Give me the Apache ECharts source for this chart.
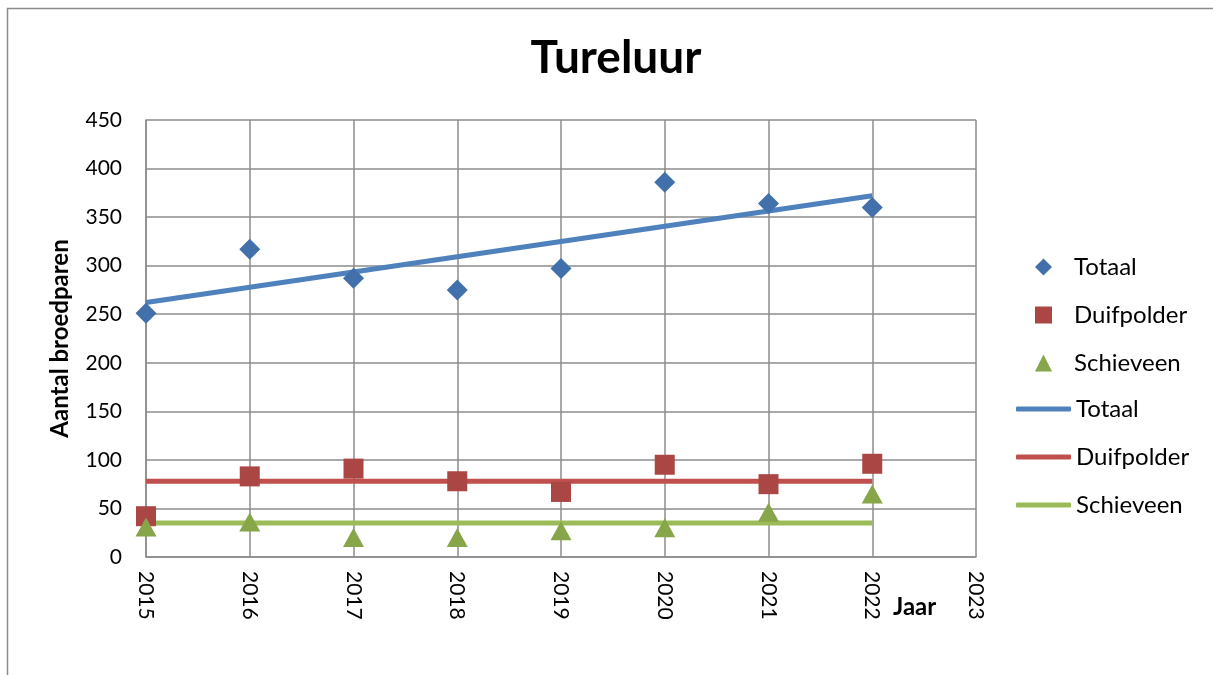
<!DOCTYPE html>
<html>
<head>
<meta charset="utf-8">
<script src="https://cdn.jsdelivr.net/npm/echarts@6/dist/echarts.min.js"></script>
<style>html,body{margin:0;padding:0;background:#fff}#c{width:1213px;height:675px}</style>
</head>
<body>
<div id="c"></div>
<script>
const years = [2015, 2016, 2017, 2018, 2019, 2020, 2021, 2022];
const totaal = [251, 317, 287, 275, 297, 386, 364, 360];
const duifpolder = [42, 83, 91, 78, 67, 95, 75, 96];
const schieveen = [31, 36, 20, 20, 27, 30, 46, 65];
const trendYears = [2015, 2022];
const trendTotaal = [262, 372];
const trendDuifpolder = [78, 78];
const trendSchieveen = [35, 35];

const FONT = 'Lato';
const pairs = (xs, ys) => xs.map((x, i) => [x, ys[i]]);

const chart = echarts.init(document.getElementById('c'));
chart.setOption({
  animation: false,
  textStyle: { fontFamily: FONT },
  title: {
    text: 'Tureluur', left: 611, top: 30, textAlign: 'center',
    textStyle: { fontFamily: FONT, fontSize: 46, fontWeight: 'bold', color: '#000' }
  },
  grid: { left: 146, right: 237, top: 120, bottom: 118 },
  xAxis: {
    type: 'value', min: 2015, max: 2023, interval: 1,
    axisLine: { show: true, lineStyle: { color: '#8c8c8c', width: 1.5 } },
    axisTick: { show: false },
    splitLine: { show: true, lineStyle: { color: '#8c8c8c', width: 1.5 } },
    axisLabel: { rotate: -90, margin: 14, fontSize: 21, color: '#000', fontFamily: FONT, formatter: v => String(v) }
  },
  yAxis: {
    type: 'value', min: 0, max: 450, interval: 50,
    name: 'Aantal broedparen', nameLocation: 'middle', nameGap: 74, nameRotate: 90,
    nameTextStyle: { fontSize: 24, fontWeight: 'bold', color: '#000', fontFamily: FONT },
    axisLine: { show: true, lineStyle: { color: '#8c8c8c', width: 1.5 } },
    axisTick: { show: false },
    splitLine: { show: true, lineStyle: { color: '#8c8c8c', width: 1.5 } },
    axisLabel: { margin: 24, fontSize: 21, color: '#000', fontFamily: FONT }
  },
  legend: [
    {
      orient: 'vertical', left: 1035, top: 255, padding: 0, itemWidth: 17, itemHeight: 17, itemGap: 24,
      textStyle: { fontSize: 24, lineHeight: 24, color: '#000', fontFamily: FONT, padding: [0, 0, 0, 17] },
      data: [
        { name: 'Totaal', icon: 'diamond' },
        { name: 'Duifpolder', icon: 'rect' },
        { name: 'Schieveen', icon: 'triangle' }
      ]
    },
    {
      orient: 'vertical', left: 1016, top: 397, padding: 0, itemWidth: 55, itemHeight: 5, itemGap: 24,
      textStyle: { fontSize: 24, lineHeight: 24, color: '#000', fontFamily: FONT },
      formatter: n => n.trim(),
      data: [
        { name: 'Totaal ', icon: 'roundRect' },
        { name: 'Duifpolder ', icon: 'roundRect' },
        { name: 'Schieveen ', icon: 'roundRect' }
      ]
    }
  ],
  graphic: [
    { type: 'rect', shape: { x: 7.5, y: 8.5, width: 1300, height: 800 }, style: { fill: 'none', stroke: '#8c8c8c', lineWidth: 1.5 }, silent: true },
    { type: 'text', left: 893, top: 595, style: { text: 'Jaar', fontSize: 24, fontWeight: 'bold', fill: '#000', fontFamily: FONT } }
  ],
  series: [
    { name: 'Totaal ', type: 'line', data: pairs(trendYears, trendTotaal), symbol: 'none', lineStyle: { color: '#4F81BD', width: 5 }, itemStyle: { color: '#4F81BD' }, z: 2 },
    { name: 'Duifpolder ', type: 'line', data: pairs(trendYears, trendDuifpolder), symbol: 'none', lineStyle: { color: '#C0504D', width: 5 }, itemStyle: { color: '#C0504D' }, z: 2 },
    { name: 'Schieveen ', type: 'line', data: pairs(trendYears, trendSchieveen), symbol: 'none', lineStyle: { color: '#9BBB59', width: 5 }, itemStyle: { color: '#9BBB59' }, z: 2 },
    { name: 'Totaal', type: 'scatter', data: pairs(years, totaal), symbol: 'diamond', symbolSize: [21, 21], itemStyle: { color: '#4170AA', opacity: 1 }, z: 3 },
    { name: 'Duifpolder', type: 'scatter', data: pairs(years, duifpolder), symbol: 'rect', symbolSize: 20, itemStyle: { color: '#AA4643', opacity: 1 }, z: 3 },
    { name: 'Schieveen', type: 'scatter', data: pairs(years, schieveen), symbol: 'triangle', symbolSize: [21, 19], itemStyle: { color: '#87A64A', opacity: 1 }, z: 3 }
  ]
});
</script>
</body>
</html>
